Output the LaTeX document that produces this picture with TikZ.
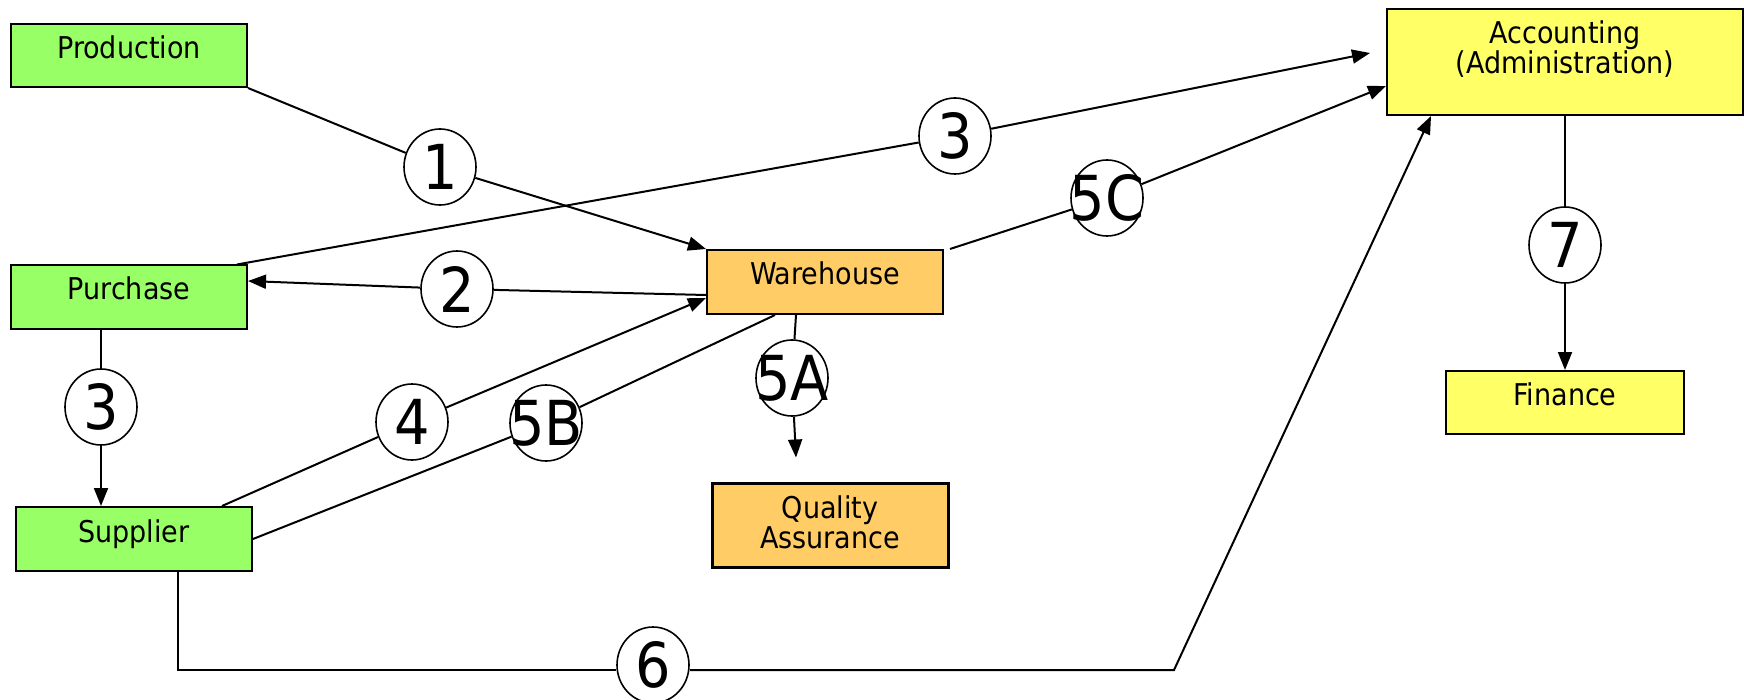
\documentclass[tikz,border=0pt]{standalone}
\usepackage{fontspec}
\setmainfont{DejaVu Sans Condensed}
\usepackage{tikz}
\usetikzlibrary{shapes,arrows,positioning,calc,arrows.meta}

\definecolor{deptgreen}{HTML}{99FF66}
\definecolor{deptorange}{HTML}{FFCC66}
\definecolor{deptyellow}{HTML}{FFFF66}

\begin{document}
\begin{tikzpicture}[x=1pt, y=-1pt, line width=2pt,
    dept/.style={draw, minimum width=236pt, minimum height=63pt, inner sep=0pt, align=center, font=\fontsize{30}{30}\selectfont, text height=23pt, text depth=17pt},
    bub/.style={ellipse, draw, fill=white, line width=1.6pt, minimum width=72pt, minimum height=76pt, inner sep=0pt, font=\fontsize{62}{62}\selectfont},
    flow/.style={-{Triangle[length=18pt, width=14pt]}}]
    \useasboundingbox (0,0) rectangle (1744,700);

    \node[dept, fill=deptgreen] (prod) at (129,55.5) {Production};
    \node[dept, fill=deptgreen] (pur) at (129,297) {Purchase};
    \node[dept, fill=deptgreen, minimum height=64pt] (sup) at (134,539) {Supplier};
    \node[dept, fill=deptorange, minimum height=64pt] (wh) at (825,282) {Warehouse};
    \node[dept, fill=deptorange, minimum height=84pt, line width=3pt, text height=53pt, text depth=6pt] (qa) at (830,525) {Quality\\Assurance};
    \node[dept, fill=deptyellow, minimum width=356pt, minimum height=106pt, text height=53pt, text depth=29pt] (acc) at (1565,62) {Accounting\\(Administration)};
    \node[dept, fill=deptyellow, minimum width=238pt] (fin) at (1565,402.5) {Finance};

    \node[bub] (c1) at (440,167) {\makebox[0pt]{1}};
    \node[bub] (c2) at (457,289) {\makebox[0pt]{2}};
    \node[bub] (c3a) at (955,136) {\makebox[0pt]{3}};
    \node[bub] (c3b) at (101,407) {\makebox[0pt]{3}};
    \node[bub] (c4) at (412,422) {\makebox[0pt]{4}};
    \node[bub] (c5a) at (792,378) {\makebox[0pt]{5A}};
    \node[bub] (c5b) at (546,423) {\makebox[0pt]{5B}};
    \node[bub] (c5c) at (1107,198) {\makebox[0pt]{5C}};
    \node[bub] (c6) at (653,665) {\makebox[0pt]{6}};
    \node[bub] (c7) at (1565,245) {\makebox[0pt]{7}};

    \coordinate (acc3) at (1370,53);
    \coordinate (qa5) at ($(qa.north)+(-34,-24)$);
    \coordinate (bend6) at (1174,670);

    \draw (prod.south east) -- (c1);
    \draw[flow] (c1) -- (wh.north west);
    \draw ([xshift=-11pt]pur.north east) -- (c3a);
    \draw[flow] (c3a) -- (acc3);
    \draw ($(wh.north east)+(6,0)$) -- (c5c);
    \draw[flow] (c5c) -- ($(acc.west)+(0,24)$);
    \draw ($(wh.west)+(0,13)$) -- (c2);
    \draw[flow] (c2) -- ($(pur.east)+(0,-16)$);
    \draw ($(pur.south)+(-28,0)$) -- (c3b);
    \draw[flow] (c3b) -- (c3b |- sup.north);
    \draw ($(sup.north)+(88,0)$) -- (c4);
    \draw[flow] (c4) -- ($(wh.west)+(0,16)$);
    \draw (sup.east) -- (c5b);
    \draw (c5b) -- ($(wh.south)+(-50,0)$);
    \draw ($(wh.south)+(-29,0)$) -- (c5a);
    \draw[flow] (c5a) -- (qa5);
    \draw ([xshift=44pt]sup.south) |- (c6.west |- bend6);
    \draw[flow] (c6.east |- bend6) -- (bend6) -- ($(acc.south west)+(45,0)$);
    \draw (acc.south) -- (c7);
    \draw[flow] (c7) -- (fin.north);
\end{tikzpicture}
\end{document}
